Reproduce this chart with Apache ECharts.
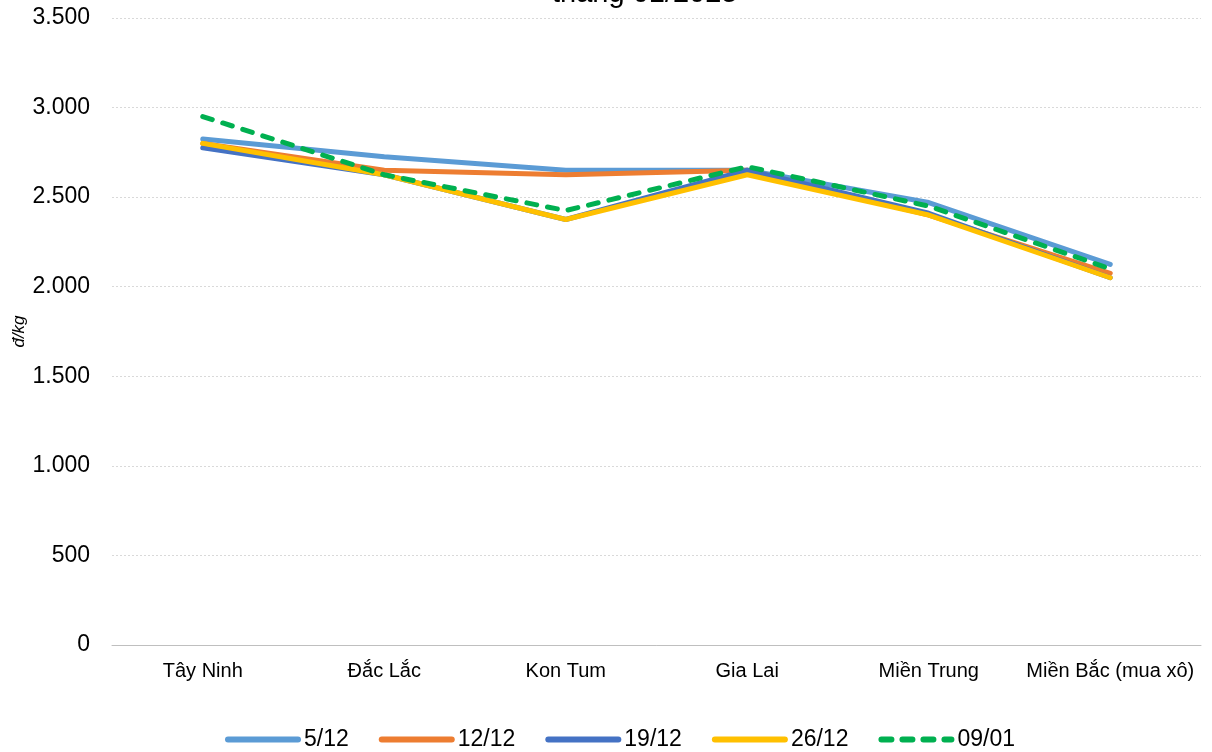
<!DOCTYPE html>
<html>
<head>
<meta charset="utf-8">
<script src="https://cdn.jsdelivr.net/npm/echarts@6/dist/echarts.min.js"></script>
<style>
  html, body { margin: 0; padding: 0; background: #ffffff; }
  #chart { width: 1212px; height: 752px; }
</style>
</head>
<body>
<div id="chart"></div>
<script>
// Regions (x axis)
const regions = ['Tây Ninh', 'Đắc Lắc', 'Kon Tum', 'Gia Lai', 'Miền Trung', 'Miền Bắc (mua xô)'];

// Prices by week, đ/kg
const week0512 = [2825, 2725, 2650, 2650, 2470, 2125];
const week1212 = [2800, 2650, 2625, 2650, 2400, 2075];
const week1912 = [2775, 2625, 2375, 2650, 2410, 2050];
const week2612 = [2800, 2625, 2375, 2625, 2400, 2050];
const week0901 = [2950, 2625, 2425, 2670, 2450, 2100];

const seriesNames = ['5/12', '12/12', '19/12', '26/12', '09/01'];
const seriesColors = ['#5B9BD5', '#ED7D31', '#4472C4', '#FFC000', '#00B050'];
const seriesData = [week0512, week1212, week1912, week2612, week0901];

const fontFamily = '"Liberation Sans", Arial, sans-serif';

function fmtThousands(v) {
  return String(v).replace(/\B(?=(\d{3})+(?!\d))/g, '.');
}

const chart = echarts.init(document.getElementById('chart'), null, { renderer: 'canvas' });

const series = seriesNames.map((name, i) => ({
  name: name,
  type: 'line',
  data: seriesData[i],
  symbol: 'none',
  smooth: false,
  lineStyle: {
    color: seriesColors[i],
    width: 5,
    type: i === 4 ? [10, 11] : 'solid',
    cap: 'round',
    join: 'round'
  },
  itemStyle: { color: seriesColors[i] },
  z: 2 + i
}));

chart.setOption({
  animation: false,
  backgroundColor: '#ffffff',
  title: {
    text: 'tháng 01/2025',
    left: 547,
    top: -26,
    textStyle: { fontFamily: fontFamily, fontSize: 29, fontWeight: 'normal', color: '#000000' }
  },
  grid: {
    left: 112, right: 11, top: 18, bottom: 107,
    containLabel: false,
    outerBoundsMode: 'none'
  },
  legend: {
    bottom: -4,
    left: 220,
    itemWidth: 70,
    itemHeight: 12,
    itemGap: 30,
    itemStyle: { opacity: 0 },
    lineStyle: { width: 6, cap: 'round' },
    textStyle: { fontFamily: fontFamily, fontSize: 23, color: '#000000', padding: [0, 0, 0, 1] },
    data: seriesNames
  },
  xAxis: {
    type: 'category',
    data: regions,
    boundaryGap: true,
    axisLine: { show: true, lineStyle: { color: '#bfbfbf', width: 1 } },
    axisTick: { show: false },
    axisLabel: { fontFamily: fontFamily, fontSize: 20, color: '#000000', margin: 16, interval: 0 },
    splitLine: { show: false }
  },
  yAxis: {
    type: 'value',
    min: 0,
    max: 3500,
    interval: 500,
    name: 'đ/kg',
    nameLocation: 'middle',
    nameGap: 84,
    nameRotate: 90,
    nameMoveOverlap: false,
    nameTextStyle: { fontFamily: fontFamily, fontSize: 17, fontStyle: 'italic', color: '#000000' },
    axisLine: { show: false },
    axisTick: { show: false },
    axisLabel: {
      fontFamily: fontFamily, fontSize: 23, color: '#000000', margin: 22,
      formatter: fmtThousands
    },
    splitLine: { show: true, lineStyle: { color: '#d9d9d9', width: 1, type: [2, 2] } }
  },
  series: series
});
</script>
</body>
</html>
